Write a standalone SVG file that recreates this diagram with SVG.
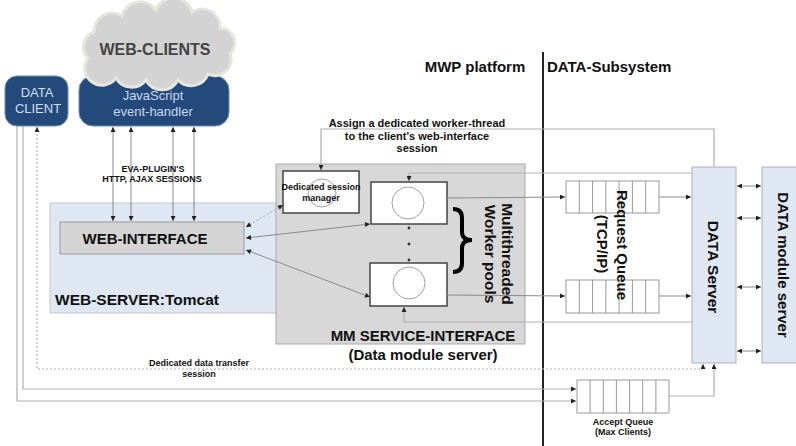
<svg xmlns="http://www.w3.org/2000/svg" width="796" height="446" viewBox="0 0 796 446">
  <style>
    text { font-family: "Liberation Sans", Arial, sans-serif; }
    .b { font-weight: bold; fill: #111; }
    .big { font-size: 15px; }
    .sm { font-size: 9px; }
    .mid { font-size: 11px; }
    .c { text-anchor: middle; }
    .ln { fill: none; stroke: #8a8a8a; stroke-width: 1; }
    .lt { fill: none; stroke: #b0b0b0; stroke-width: 1.2; }
    .dot { fill: none; stroke: #a8a8a8; stroke-width: 1; stroke-dasharray: 2 2; }
    .q { fill: #fff; stroke: #999; stroke-width: 1; }
    .blue { fill: #dfe7f3; stroke: #aab2c0; stroke-width: 1; }
    .wk { fill: #fff; stroke: #444; stroke-width: 1.5; }
    .ring { fill: none; stroke: #a0a0a0; stroke-width: 1; }
  </style>
  <defs>
    <marker id="ah" viewBox="0 0 10 10" refX="10" refY="5" markerWidth="6" markerHeight="5" markerUnits="userSpaceOnUse" orient="auto-start-reverse">
      <path d="M0,0 L10,5 L0,10 z" fill="#222"/>
    </marker>
  </defs>

  <!-- platform divider -->
  <g id="divider">
    <line x1="543" y1="52" x2="543" y2="446" stroke="#222" stroke-width="2"/>
    <text class="b big c" x="475" y="72">MWP platform</text>
    <text class="b big" x="547" y="72">DATA-Subsystem</text>
  </g>

  <!-- clients -->
  <g id="data-client">
    <rect x="5" y="76" width="63" height="50" rx="12" fill="#244a7c" stroke="#6d8db5" stroke-width="1"/>
    <text x="37" y="97" font-size="13" fill="#d3def0" class="c">DATA</text>
    <text x="38" y="113" font-size="13" fill="#d3def0" class="c">CLIENT</text>
  </g>
  <g id="js-handler">
    <rect x="79" y="76" width="150" height="50" rx="14" fill="#244a7c" stroke="#6d8db5" stroke-width="1"/>
    <text x="153" y="100" font-size="13" fill="#c9d6ec" class="c">JavaScript</text>
    <text x="153" y="116" font-size="13" fill="#c9d6ec" class="c">event-handler</text>
  </g>
  <g id="web-clients">
    <path d="M88,58 A16,16 0 0 1 94,32 A18,18 0 0 1 122,16 A19,19 0 0 1 156,10 A19,19 0 0 1 192,12 A18,18 0 0 1 220,28 A15,15 0 0 1 230,54 A16,16 0 0 1 208,74 A18,18 0 0 1 178,80 A18,18 0 0 1 146,80 A18,18 0 0 1 116,78 A15,15 0 0 1 88,58 Z" fill="#d3d3d3" stroke="#e6e6dc" stroke-width="3"/>
    <text x="155" y="55" font-size="16" font-weight="bold" fill="#444" class="c">WEB-CLIENTS</text>
  </g>

  <!-- web server -->
  <g id="web-server">
    <rect x="50" y="203" width="227" height="110" fill="#dfe7f3" stroke="#c2c8d2" stroke-width="1"/>
    <text class="b" x="55" y="305" font-size="15.5">WEB-SERVER:Tomcat</text>
  </g>
  <g id="web-interface">
    <rect x="60" y="222" width="184" height="32" fill="#d4d4d4" stroke="#9a9a9a" stroke-width="1"/>
    <text class="b big c" x="145" y="244">WEB-INTERFACE</text>
  </g>

  <!-- service interface -->
  <g id="mm-service">
    <rect x="276" y="164" width="249" height="180" fill="#d8d8d8" stroke="#aaa" stroke-width="1"/>
    <text class="b big c" x="423" y="341">MM SERVICE-INTERFACE</text>
    <text class="b big c" x="423" y="360">(Data module server)</text>
  </g>
  <g id="session-manager">
    <rect x="283" y="171" width="76" height="42" class="wk"/>
    <circle cx="322" cy="193" r="14" class="ring"/>
    <text class="b sm c" x="321" y="190" fill="#222">Dedicated session</text>
    <text class="b sm c" x="321" y="201" fill="#222">manager</text>
  </g>
  <g id="worker-1">
    <rect x="371" y="182" width="76" height="42" class="wk"/>
    <circle cx="408" cy="203" r="16" class="ring"/>
  </g>
  <g id="worker-2">
    <rect x="370" y="263" width="77" height="43" class="wk"/>
    <circle cx="409" cy="283" r="16" class="ring"/>
  </g>
  <g id="worker-pools">
    <circle cx="409" cy="228" r="1.4" fill="#333"/>
    <circle cx="409" cy="244" r="1.4" fill="#333"/>
    <circle cx="409" cy="260" r="1.4" fill="#333"/>
    <path d="M453,209 Q462,209 462,218 L462,232 Q462,240 472,240 Q462,240 462,248 L462,263 Q462,272 453,272" fill="none" stroke="#000" stroke-width="4"/>
    <text class="b c" font-size="15.5" transform="translate(502,254) rotate(90)">Multithreaded</text>
    <text class="b c" font-size="15.5" transform="translate(485,254) rotate(90)">Worker pools</text>
  </g>

  <!-- queues -->
  <g id="request-queue-1">
    <rect x="566" y="181" width="93" height="32" class="q"/>
    <path d="M579.3,181 V213 M592.6,181 V213 M605.9,181 V213 M619.1,181 V213 M632.4,181 V213 M645.7,181 V213" stroke="#999" stroke-width="1"/>
  </g>
  <g id="request-queue-2">
    <rect x="566" y="280" width="93" height="33" class="q"/>
    <path d="M579.3,280 V313 M592.6,280 V313 M605.9,280 V313 M619.1,280 V313 M632.4,280 V313 M645.7,280 V313" stroke="#999" stroke-width="1"/>
  </g>
  <g id="request-queue-label">
    <text class="b c" font-size="15" transform="translate(617,245) rotate(90)">Request Queue</text>
    <text class="b c" font-size="15" transform="translate(597,244) rotate(90)">(TCP/IP)</text>
  </g>
  <g id="accept-queue">
    <rect x="577" y="380" width="92" height="33" class="q"/>
    <path d="M590.1,380 V413 M603.3,380 V413 M616.4,380 V413 M629.6,380 V413 M642.7,380 V413 M655.9,380 V413" stroke="#999" stroke-width="1"/>
    <text class="b sm c" x="623" y="425" fill="#222">Accept Queue</text>
    <text class="b sm c" x="623" y="435" fill="#222">(Max Clients)</text>
  </g>

  <!-- data servers -->
  <g id="data-server">
    <rect x="692" y="167" width="44" height="196" class="blue"/>
    <text class="b c" font-size="15.5" transform="translate(708,267) rotate(90)">DATA Server</text>
  </g>
  <g id="data-module-server">
    <rect x="762" y="167" width="40" height="196" class="blue"/>
    <text class="b c" font-size="15" transform="translate(778,265) rotate(90)">DATA module server</text>
  </g>

  <!-- connectors -->
  <g id="connectors">
    <!-- HTTP / AJAX sessions -->
    <line x1="113" y1="127" x2="113" y2="221" class="ln" marker-start="url(#ah)" marker-end="url(#ah)"/>
    <line x1="131" y1="127" x2="131" y2="221" class="ln" marker-start="url(#ah)" marker-end="url(#ah)"/>
    <line x1="173" y1="127" x2="173" y2="221" class="ln" marker-start="url(#ah)" marker-end="url(#ah)"/>
    <line x1="194" y1="127" x2="194" y2="221" class="ln" marker-start="url(#ah)" marker-end="url(#ah)"/>
    <text class="b sm c" x="153" y="172" fill="#222">EVA-PLUGIN'S</text>
    <text class="b sm c" x="152" y="182" fill="#222">HTTP, AJAX SESSIONS</text>

    <!-- web-interface to service interface -->
    <line x1="246" y1="227" x2="283" y2="205" class="dot" stroke="#777" marker-start="url(#ah)" marker-end="url(#ah)"/>
    <line x1="246" y1="238" x2="370" y2="224" class="ln" marker-start="url(#ah)" marker-end="url(#ah)"/>
    <line x1="246" y1="250" x2="370" y2="297" class="ln" marker-start="url(#ah)" marker-end="url(#ah)"/>

    <!-- worker assignment -->
    <polyline points="714,167 714,129 321,129 321,170" class="lt" marker-end="url(#ah)"/>
    <text class="b mid c" x="417" y="127" fill="#222">Assign a dedicated worker-thread</text>
    <text class="b mid c" x="417" y="139.5" fill="#222">to the client's web-interface</text>
    <text class="b mid c" x="417" y="152" fill="#222">session</text>
    <polyline points="692,173 409,173 409,181" class="lt" marker-end="url(#ah)"/>
    <polyline points="692,322 404,322 404,307" class="lt" marker-end="url(#ah)"/>

    <!-- workers to queues to server -->
    <line x1="447" y1="198" x2="565" y2="197" class="ln" marker-end="url(#ah)"/>
    <line x1="447" y1="295" x2="565" y2="296" class="ln" marker-end="url(#ah)"/>
    <line x1="659" y1="197" x2="691" y2="197" class="ln" marker-end="url(#ah)"/>
    <line x1="659" y1="296" x2="691" y2="296" class="ln" marker-end="url(#ah)"/>

    <!-- server to module server -->
    <line x1="737" y1="186" x2="761" y2="186" class="ln" stroke="#333" marker-start="url(#ah)" marker-end="url(#ah)"/>
    <line x1="737" y1="218" x2="761" y2="218" class="ln" stroke="#333" marker-start="url(#ah)" marker-end="url(#ah)"/>
    <line x1="737" y1="287" x2="761" y2="287" class="ln" stroke="#333" marker-start="url(#ah)" marker-end="url(#ah)"/>
    <line x1="737" y1="351" x2="761" y2="351" class="ln" stroke="#333" marker-start="url(#ah)" marker-end="url(#ah)"/>

    <!-- data client sessions -->
    <polyline points="703,364 703,369 37,369 37,127" class="dot" marker-start="url(#ah)" marker-end="url(#ah)"/>
    <text class="b sm c" x="199" y="366" fill="#222">Dedicated data transfer</text>
    <text class="b sm c" x="199" y="377" fill="#222">session</text>
    <polyline points="23,126 23,389 576,389" class="lt" marker-end="url(#ah)"/>
    <polyline points="17,126 17,401 576,401" class="lt" marker-end="url(#ah)"/>
    <polyline points="669,396 714,396 714,364" class="lt" marker-end="url(#ah)"/>
  </g>
</svg>
